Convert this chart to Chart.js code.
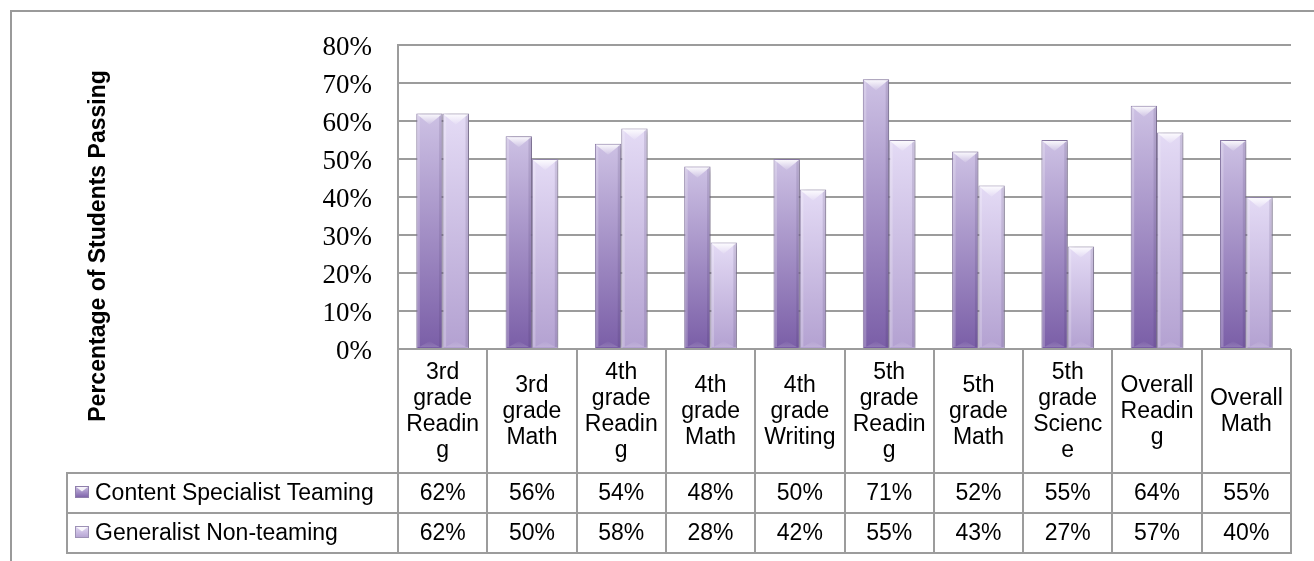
<!DOCTYPE html>
<html><head><meta charset="utf-8">
<script src="https://cdn.jsdelivr.net/npm/chart.js@4"></script>
<style>html,body{margin:0;padding:0;background:#fff}canvas{display:block}</style>
</head><body>
<canvas id="c" width="1314" height="561"></canvas>
<script>
// ---- data ----
const categories = ["3rd grade Reading","3rd grade Math","4th grade Reading","4th grade Math","4th grade Writing","5th grade Reading","5th grade Math","5th grade Science","Overall Reading","Overall Math"];
const seriesNames = ["Content Specialist Teaming","Generalist Non-teaming"];
const contentSpecialist = [62,56,54,48,50,71,52,55,64,55];
const generalist = [62,50,58,28,42,55,43,27,57,40];
const yTicks = [0,10,20,30,40,50,60,70,80];
const axisTitle = "Percentage of Students Passing";

// ---- styles ----
const SANS = '"Liberation Sans", Arial, sans-serif';
const SERIF = '"Liberation Serif", "Times New Roman", serif';
const GRID = '#9c9c9c';
const palettes = [
  {bottom:'#7a5ea7', top:'#cdc1e4', border:'#8f7fab'},
  {bottom:'#b3a1d1', top:'#e4dbf5', border:'#9d91b5'}
];

function barFill(i){
  return (c) => {
    const ch = c.chart, ys = ch.scales && ch.scales.y;
    if (c.type !== 'data' || !ch.chartArea || !ys) return palettes[i].bottom;
    const base = ys.getPixelForValue(0), top = ys.getPixelForValue(c.raw);
    const g = ch.ctx.createLinearGradient(0, base, 0, top);
    g.addColorStop(0, palettes[i].bottom);
    g.addColorStop(1, palettes[i].top);
    return g;
  };
}

function wrapText(ctx, text, maxW){
  const words = text.split(' ');
  const lines = [];
  let line = '';
  const pushWord = (w) => {
    // break long word by characters
    let cur = '';
    for (const ch of w){
      if (ctx.measureText(cur + ch).width > maxW && cur){ lines.push(cur); cur = ch; }
      else cur += ch;
    }
    return cur;
  };
  for (const w of words){
    const test = line ? line + ' ' + w : w;
    if (ctx.measureText(test).width <= maxW){ line = test; continue; }
    if (line) lines.push(line);
    line = ctx.measureText(w).width <= maxW ? w : pushWord(w);
  }
  if (line) lines.push(line);
  return lines;
}

const decorPlugin = {
  id: 'decor',
  beforeDraw(chart){
    const ctx = chart.ctx;
    ctx.save();
    ctx.strokeStyle = '#9a9a9a';
    ctx.lineWidth = 2;
    ctx.beginPath();
    ctx.moveTo(11, chart.height + 5);
    ctx.lineTo(11, 11);
    ctx.lineTo(chart.width + 5, 11);
    ctx.stroke();
    ctx.restore();
  },
  beforeDatasetsDraw(chart){
    const ctx = chart.ctx;
    ctx.save();
    ctx.shadowColor = 'rgba(0,0,0,0.30)';
    ctx.shadowBlur = 5;
    ctx.shadowOffsetX = 2;
    ctx.shadowOffsetY = 1;
  },
  afterDatasetsDraw(chart){
    const ctx = chart.ctx;
    ctx.restore();
    ctx.save();
    chart.data.datasets.forEach((ds, di) => {
      const meta = chart.getDatasetMeta(di);
      meta.data.forEach(bar => {
        const {x, y, base, width} = bar.getProps(['x','y','base','width'], true);
        const l = x - width/2, r = x + width/2;
        const d = width * 0.42;
        // side strips
        ctx.fillStyle = 'rgba(255,255,255,0.22)';
        ctx.fillRect(l + 1, y + 1, 2.5, base - y - 2);
        ctx.fillStyle = 'rgba(50,30,80,0.13)';
        ctx.fillRect(r - 3.5, y + 1, 2.5, base - y - 2);
        // top bevel triangle
        const g = ctx.createLinearGradient(0, y, 0, y + d);
        g.addColorStop(0, 'rgba(255,255,255,0.95)');
        g.addColorStop(1, 'rgba(255,255,255,0.10)');
        ctx.fillStyle = g;
        ctx.beginPath();
        ctx.moveTo(l + 1, y + 1);
        ctx.lineTo(r - 1, y + 1);
        ctx.lineTo(x, y + d);
        ctx.closePath();
        ctx.fill();
        // bottom reflection
        if (base - y > d * 1.5){
          const g2 = ctx.createLinearGradient(0, base, 0, base - d*0.6);
          g2.addColorStop(0, 'rgba(255,255,255,0.18)');
          g2.addColorStop(1, 'rgba(255,255,255,0.02)');
          ctx.fillStyle = g2;
          ctx.beginPath();
          ctx.moveTo(l + 3, base - 1);
          ctx.lineTo(r - 3, base - 1);
          ctx.lineTo(x, base - d*0.6);
          ctx.closePath();
          ctx.fill();
        }
      });
    });
    ctx.restore();
  },
  afterDraw(chart){
    const ctx = chart.ctx, xs = chart.scales.x, area = chart.chartArea;
    const n = categories.length;
    const cw = area.width / n;
    const headTop = area.bottom, headBot = 473, rowH = 40, tableLeft = 67;
    const tableBot = headBot + 2*rowH;
    ctx.save();
    // y axis title
    ctx.fillStyle = '#000';
    ctx.font = 'bold 23px ' + SANS;
    ctx.textAlign = 'center';
    ctx.textBaseline = 'alphabetic';
    ctx.save();
    ctx.translate(104.5, 246);
    ctx.rotate(-Math.PI/2);
    ctx.fillText(axisTitle, 0, 0);
    ctx.restore();

    // grid lines of table
    ctx.strokeStyle = GRID;
    ctx.lineWidth = 2;
    ctx.beginPath();
    for (let r = 0; r <= 2; r++){
      const yy = headBot + r*rowH;
      ctx.moveTo(tableLeft - 1, yy); ctx.lineTo(area.right + 1, yy);
    }
    ctx.moveTo(tableLeft, headBot); ctx.lineTo(tableLeft, tableBot);
    for (let k = 0; k <= n; k++){
      const xx = Math.round(area.left + k*cw);
      ctx.moveTo(xx, headTop); ctx.lineTo(xx, tableBot);
    }
    ctx.stroke();

    // category headers
    ctx.font = '23px ' + SANS;
    ctx.fillStyle = '#000';
    ctx.textAlign = 'center';
    ctx.textBaseline = 'middle';
    const lh = 26;
    categories.forEach((cat, i) => {
      const cx = xs.getPixelForValue(i);
      const lines = wrapText(ctx, cat, 78);
      const cy = (headTop + headBot)/2 + 1;
      const y0 = cy - (lines.length - 1) * lh / 2;
      lines.forEach((ln, j) => ctx.fillText(ln, cx, y0 + j*lh));
    });

    // data rows
    const rows = [contentSpecialist, generalist];
    rows.forEach((vals, r) => {
      const cy = headBot + r*rowH + rowH/2;
      // legend key
      const kx = 75, ky = cy - 7, kw = 14, kh = 12;
      const kg = ctx.createLinearGradient(0, ky + kh, 0, ky);
      kg.addColorStop(0, palettes[r].bottom);
      kg.addColorStop(1, palettes[r].top);
      ctx.fillStyle = kg;
      ctx.fillRect(kx, ky, kw, kh);
      ctx.fillStyle = 'rgba(255,255,255,0.85)';
      ctx.beginPath();
      ctx.moveTo(kx, ky); ctx.lineTo(kx + kw, ky); ctx.lineTo(kx + kw/2, ky + kh*0.45); ctx.closePath();
      ctx.fill();
      ctx.strokeStyle = palettes[r].border;
      ctx.lineWidth = 1;
      ctx.strokeRect(kx + 0.5, ky + 0.5, kw - 1, kh - 1);
      // name
      ctx.fillStyle = '#000';
      ctx.textAlign = 'left';
      ctx.fillText(seriesNames[r], 95, cy + 1);
      // values
      ctx.textAlign = 'center';
      vals.forEach((v, i) => ctx.fillText(v + '%', xs.getPixelForValue(i), cy + 1));
    });
    ctx.restore();
  }
};

new Chart(document.getElementById('c'), {
  type: 'bar',
  data: {
    labels: categories,
    datasets: [
      {label: seriesNames[0], data: contentSpecialist, backgroundColor: barFill(0), borderColor: palettes[0].border, borderWidth: 1},
      {label: seriesNames[1], data: generalist, backgroundColor: barFill(1), borderColor: palettes[1].border, borderWidth: 1}
    ]
  },
  options: {
    responsive: false,
    animation: false,
    devicePixelRatio: 1,
    layout: {padding: {left: 0, top: 45, right: 23, bottom: 212}},
    datasets: {bar: {categoryPercentage: 0.59, barPercentage: 1.0}},
    plugins: {legend: {display: false}, tooltip: {enabled: false}, title: {display: false}},
    scales: {
      x: {display: false},
      y: {
        min: 0, max: 80,
        afterBuildTicks: s => { s.ticks = yTicks.map(v => ({value: v})); },
        afterFit: s => { s.width = 398; },
        ticks: {padding: 26, labelOffset: 3, color: '#000', font: {family: SERIF, size: 27}, callback: v => v + '%'},
        grid: {color: GRID, lineWidth: 2, drawTicks: false},
        border: {display: true, color: GRID, width: 2}
      }
    }
  },
  plugins: [decorPlugin]
});
</script>
</body></html>
